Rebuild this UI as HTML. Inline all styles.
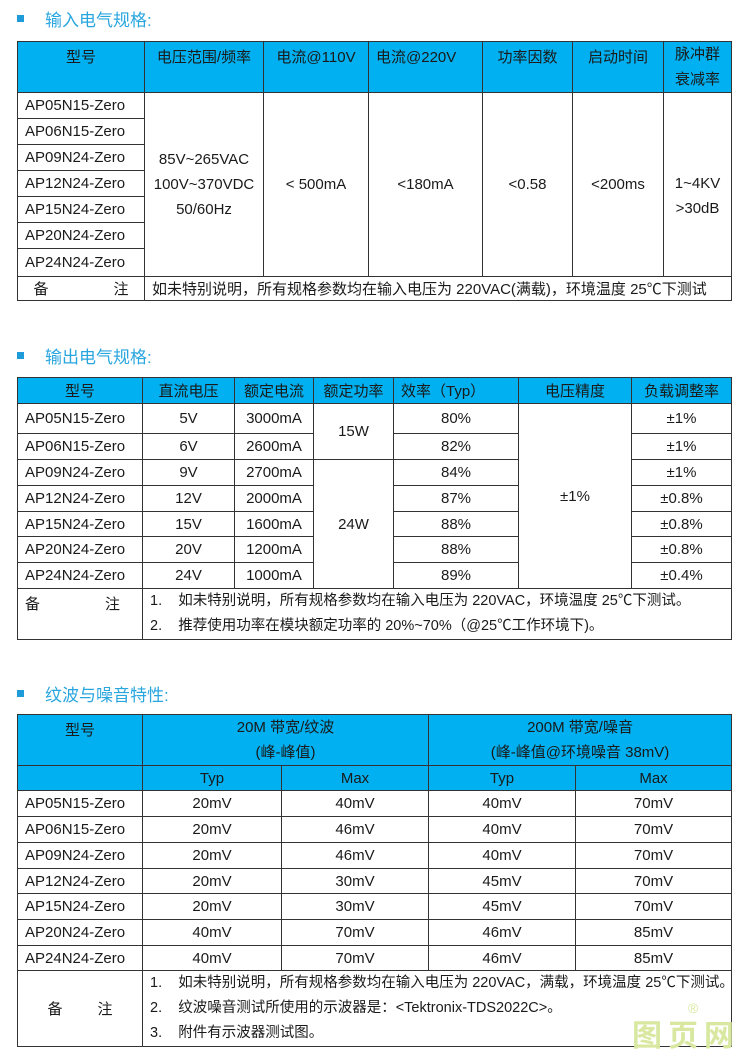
<!DOCTYPE html>
<html><head><meta charset="utf-8">
<style>
body{margin:0;width:750px;height:1061px;background:#fff;position:relative;overflow:hidden;font-family:"Liberation Sans","Noto Sans CJK SC",sans-serif;color:#1a1a1a;}
.t{position:absolute;left:45px;font-size:17px;color:#2aa6df;}
.sq{position:absolute;left:17px;width:7px;height:7px;background:#1e9bd8;}
table{position:absolute;left:17px;border-collapse:collapse;table-layout:fixed;font-size:15px;}
td{border:1.5px solid #333;padding:0;text-align:center;vertical-align:middle;white-space:nowrap;overflow:hidden;}
.h td{background:#00b0f0;}
.l{text-align:left;padding-left:7px;}
.top{vertical-align:top;padding-top:4px;}
</style></head><body>
<div class="sq" style="top:15px"></div><div class="t" style="top:6px">输入电气规格:</div>
<table style="top:41px;width:714px">
<colgroup><col style="width:127px"><col style="width:119px"><col style="width:105px"><col style="width:114px"><col style="width:90px"><col style="width:91px"><col style="width:68px"></colgroup>
<tr class="h" style="height:50px"><td class="top">型号</td><td class="top">电压范围/频率</td><td class="top">电流@110V</td><td class="top l">电流@220V</td><td class="top">功率因数</td><td class="top">启动时间</td><td class="top" style="line-height:25px;padding-top:0">脉冲群<br>衰减率</td></tr>
<tr style="height:26px"><td class="l">AP05N15-Zero</td><td rowspan="7" style="line-height:25px">85V~265VAC<br>100V~370VDC<br>50/60Hz</td><td rowspan="7">&lt; 500mA</td><td rowspan="7">&lt;180mA</td><td rowspan="7">&lt;0.58</td><td rowspan="7">&lt;200ms</td><td rowspan="7" style="line-height:25px;padding-top:22px">1~4KV<br>&gt;30dB</td></tr>
<tr style="height:26px"><td class="l">AP06N15-Zero</td></tr>
<tr style="height:26px"><td class="l">AP09N24-Zero</td></tr>
<tr style="height:26px"><td class="l">AP12N24-Zero</td></tr>
<tr style="height:26px"><td class="l">AP15N24-Zero</td></tr>
<tr style="height:26px"><td class="l">AP20N24-Zero</td></tr>
<tr style="height:28px"><td class="l">AP24N24-Zero</td></tr>
<tr style="height:24px"><td><span style="display:inline-block;width:95px;text-align:justify;text-align-last:justify">备 注</span></td><td colspan="6" class="l">如未特别说明，所有规格参数均在输入电压为 220VAC(满载)，环境温度 25℃下测试</td></tr>
</table>

<div class="sq" style="top:352px"></div><div class="t" style="top:343px">输出电气规格:</div>
<table style="top:377px;width:714px">
<colgroup><col style="width:125px"><col style="width:92px"><col style="width:79px"><col style="width:80px"><col style="width:125px"><col style="width:113px"><col style="width:100px"></colgroup>
<tr class="h" style="height:26px"><td>型号</td><td>直流电压</td><td>额定电流</td><td>额定功率</td><td class="l">效率（Typ）</td><td>电压精度</td><td>负载调整率</td></tr>
<tr style="height:30px"><td class="l">AP05N15-Zero</td><td>5V</td><td>3000mA</td><td rowspan="2">15W</td><td>80%</td><td rowspan="7">±1%</td><td>±1%</td></tr>
<tr style="height:26px"><td class="l">AP06N15-Zero</td><td>6V</td><td>2600mA</td><td>82%</td><td>±1%</td></tr>
<tr style="height:26px"><td class="l">AP09N24-Zero</td><td>9V</td><td>2700mA</td><td rowspan="5">24W</td><td>84%</td><td>±1%</td></tr>
<tr style="height:26px"><td class="l">AP12N24-Zero</td><td>12V</td><td>2000mA</td><td>87%</td><td>±0.8%</td></tr>
<tr style="height:25px"><td class="l">AP15N24-Zero</td><td>15V</td><td>1600mA</td><td>88%</td><td>±0.8%</td></tr>
<tr style="height:26px"><td class="l">AP20N24-Zero</td><td>20V</td><td>1200mA</td><td>88%</td><td>±0.8%</td></tr>
<tr style="height:26px"><td class="l">AP24N24-Zero</td><td>24V</td><td>1000mA</td><td>89%</td><td>±0.4%</td></tr>
<tr style="height:51px"><td class="l top"><span style="display:inline-block;width:95px;text-align:justify;text-align-last:justify">备 注</span></td><td colspan="6" class="l" style="line-height:25px;font-size:14.5px">1.&nbsp;&nbsp;&nbsp;&nbsp;如未特别说明，所有规格参数均在输入电压为 220VAC，环境温度 25℃下测试。<br>2.&nbsp;&nbsp;&nbsp;&nbsp;推荐使用功率在模块额定功率的 20%~70%（@25℃工作环境下)。</td></tr>
</table>

<div class="sq" style="top:690px"></div><div class="t" style="top:681px">纹波与噪音特性:</div>
<table style="top:714px;width:714px">
<colgroup><col style="width:125px"><col style="width:139px"><col style="width:147px"><col style="width:147px"><col style="width:156px"></colgroup>
<tr class="h" style="height:51px"><td class="top">型号</td><td colspan="2" style="line-height:25px">20M 带宽/纹波<br>(峰-峰值)</td><td colspan="2" style="line-height:25px">200M 带宽/噪音<br>(峰-峰值@环境噪音 38mV)</td></tr>
<tr class="h" style="height:25px"><td></td><td>Typ</td><td>Max</td><td>Typ</td><td>Max</td></tr>
<tr style="height:26px"><td class="l">AP05N15-Zero</td><td>20mV</td><td>40mV</td><td>40mV</td><td>70mV</td></tr>
<tr style="height:26px"><td class="l">AP06N15-Zero</td><td>20mV</td><td>46mV</td><td>40mV</td><td>70mV</td></tr>
<tr style="height:26px"><td class="l">AP09N24-Zero</td><td>20mV</td><td>46mV</td><td>40mV</td><td>70mV</td></tr>
<tr style="height:25px"><td class="l">AP12N24-Zero</td><td>20mV</td><td>30mV</td><td>45mV</td><td>70mV</td></tr>
<tr style="height:26px"><td class="l">AP15N24-Zero</td><td>20mV</td><td>30mV</td><td>45mV</td><td>70mV</td></tr>
<tr style="height:26px"><td class="l">AP20N24-Zero</td><td>40mV</td><td>70mV</td><td>46mV</td><td>85mV</td></tr>
<tr style="height:25px"><td class="l">AP24N24-Zero</td><td>40mV</td><td>70mV</td><td>46mV</td><td>85mV</td></tr>
<tr style="height:76px"><td><span style="display:inline-block;width:65px;text-align:justify;text-align-last:justify">备 注</span></td><td colspan="4" class="l" style="line-height:25px;font-size:14.5px">1.&nbsp;&nbsp;&nbsp;&nbsp;如未特别说明，所有规格参数均在输入电压为 220VAC，满载，环境温度 25℃下测试。<br>2.&nbsp;&nbsp;&nbsp;&nbsp;纹波噪音测试所使用的示波器是：&lt;Tektronix-TDS2022C&gt;。<br>3.&nbsp;&nbsp;&nbsp;&nbsp;附件有示波器测试图。</td></tr>
</table>
<div style="position:absolute;left:632px;top:1016px;font-size:30px;font-weight:bold;color:#d8e8a0;letter-spacing:6px;font-family:'Noto Sans CJK SC',sans-serif;line-height:34px">图页网</div>
<div style="position:absolute;left:688px;top:1000px;font-size:14px;color:#d8e8a0">®</div>
</body></html>
